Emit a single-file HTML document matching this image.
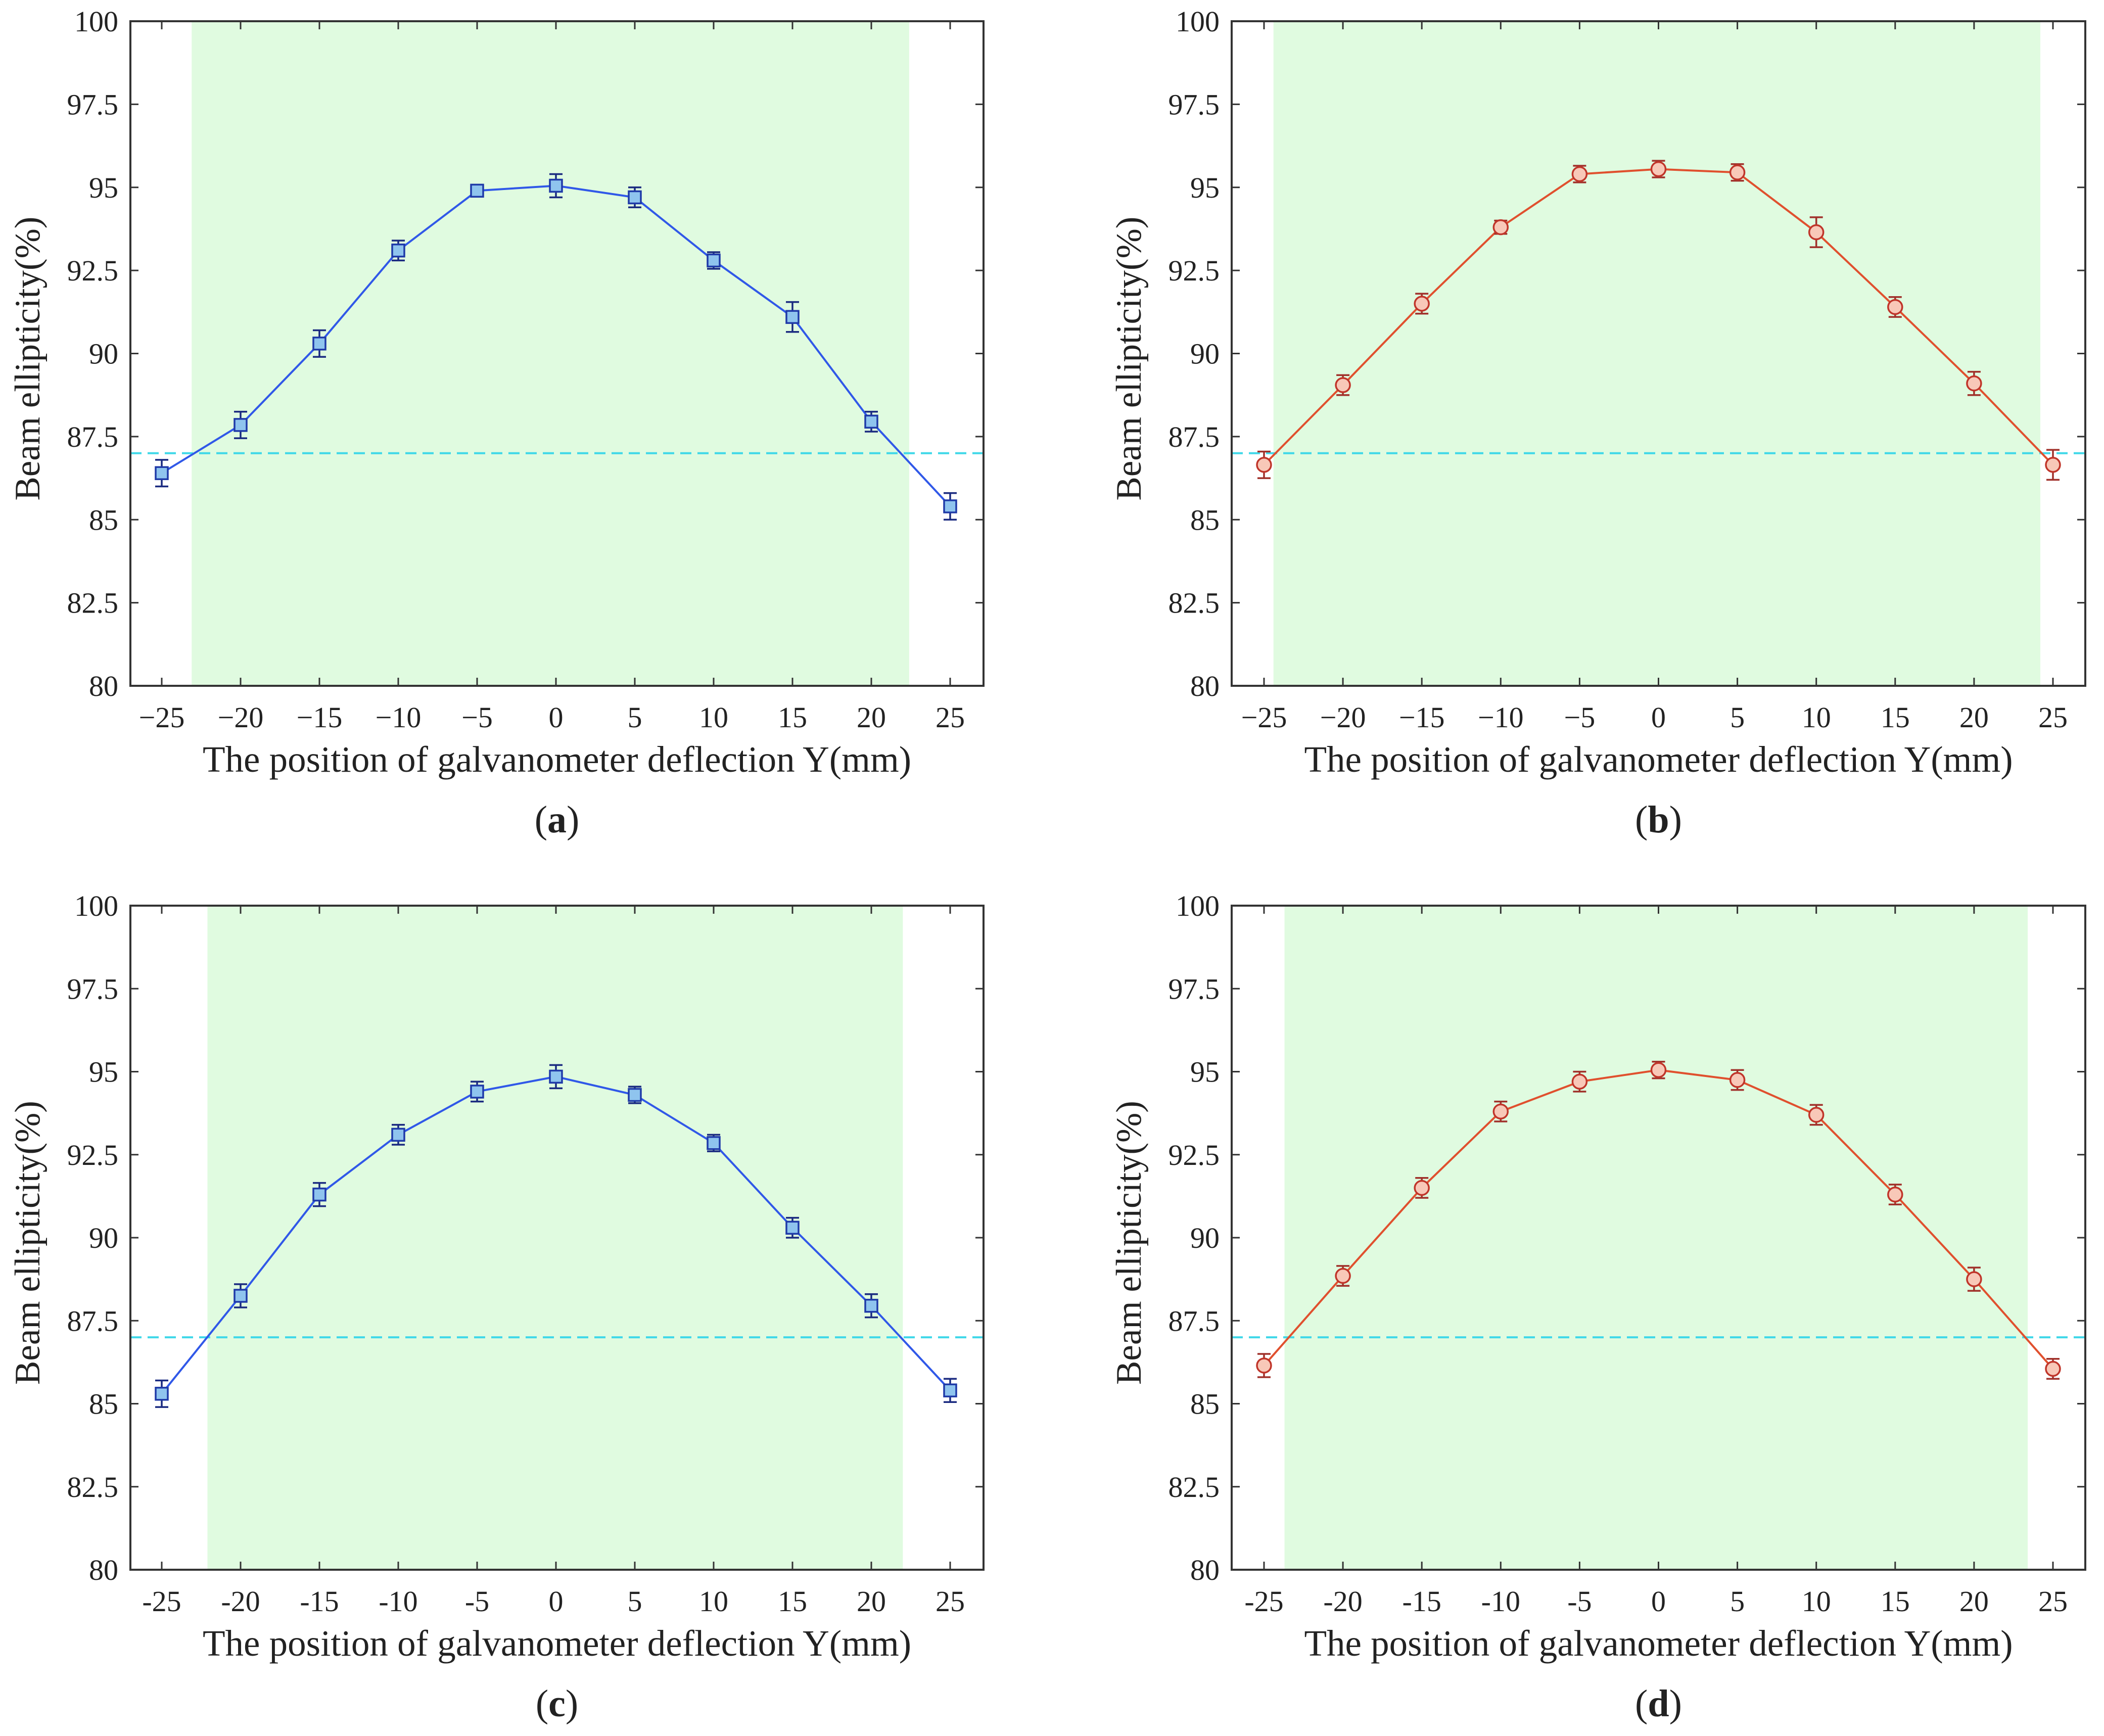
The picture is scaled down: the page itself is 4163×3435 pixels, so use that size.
<!DOCTYPE html>
<html><head><meta charset="utf-8"><style>
html,body{margin:0;padding:0;background:#fff}
svg{display:block}
text{font-family:"Liberation Serif",serif;fill:#222}
</style></head><body>
<svg id="fig" width="4163" height="3435" viewBox="0 0 4163 3435" xmlns="http://www.w3.org/2000/svg"></svg>
<script>
const xCats=[-25,-20,-15,-10,-5,0,5,10,15,20,25];
const yTicks=[80,82.5,85,87.5,90,92.5,95,97.5,100];
const yTickLabels=["80","82.5","85","87.5","90","92.5","95","97.5","100"];
const valsA=[86.4,87.85,90.3,93.1,94.9,95.05,94.7,92.8,91.1,87.95,85.4];
const errA=[0.4,0.4,0.4,0.3,0.15,0.35,0.3,0.25,0.45,0.3,0.4];
const valsB=[86.65,89.05,91.5,93.8,95.4,95.55,95.45,93.65,91.4,89.1,86.65];
const errB=[0.4,0.3,0.3,0.2,0.25,0.25,0.25,0.45,0.3,0.35,0.45];
const valsC=[85.3,88.25,91.3,93.1,94.4,94.85,94.3,92.85,90.3,87.95,85.4];
const errC=[0.4,0.35,0.35,0.3,0.3,0.35,0.25,0.25,0.3,0.35,0.35];
const valsD=[86.15,88.85,91.5,93.8,94.7,95.05,94.75,93.7,91.3,88.75,86.05];
const errD=[0.35,0.3,0.3,0.3,0.3,0.25,0.3,0.3,0.3,0.35,0.3];
const greenA=[-23.1,22.4];
const greenB=[-24.4,24.2];
const greenC=[-22.1,22.0];
const greenD=[-23.7,23.4];
const threshold=87;

const NS="http://www.w3.org/2000/svg";
const svg=document.getElementById('fig');
function mk(tag,attrs,parent){const e=document.createElementNS(NS,tag);for(const k in attrs)e.setAttribute(k,attrs[k]);(parent||svg).appendChild(e);return e;}

const panels=[
 {L:258,R:1946,T:42,B:1357,x0:320,x1:1880,vals:valsA,err:errA,green:greenA,kind:'sq',minus:'\u2212',cap:'a'},
 {L:2437,R:4126,T:42,B:1357,x0:2501,x1:4062,vals:valsB,err:errB,green:greenB,kind:'ci',minus:'\u2212',cap:'b'},
 {L:258,R:1946,T:1792,B:3106,x0:320,x1:1880,vals:valsC,err:errC,green:greenC,kind:'sq',minus:'-',cap:'c'},
 {L:2437,R:4126,T:1792,B:3106,x0:2501,x1:4062,vals:valsD,err:errD,green:greenD,kind:'ci',minus:'-',cap:'d'}
];
panels.forEach(p=>{
  const g=mk('g',{});
  
  
  const xs=v=>p.x0+(v-(-25))/50*(p.x1-p.x0);
  const ys=v=>p.B-(v-80)/20*(p.B-p.T);
  const gr=mk('rect',{x:xs(p.green[0]),y:p.T,width:xs(p.green[1])-xs(p.green[0]),height:p.B-p.T,fill:'#e0fbe0'},g);
  
  
  const th=mk('line',{x1:p.L,x2:p.R,y1:ys(threshold),y2:ys(threshold),stroke:'#3fd8e8','stroke-width':4,'stroke-dasharray':'22,12'},g);
  
  
  xCats.forEach((c,i)=>{
    const x=xs(c);
    mk('line',{x1:x,x2:x,y1:p.B,y2:p.B-16,stroke:'#333','stroke-width':3},g);
    mk('line',{x1:x,x2:x,y1:p.T,y2:p.T+16,stroke:'#333','stroke-width':3},g);
    const t=mk('text',{x:x,y:p.B+82,'text-anchor':'middle','font-size':58},g);
    t.textContent=c<0?p.minus+Math.abs(c):String(c);
    
    
  });
  yTicks.forEach((v,i)=>{
    const y=ys(v);
    mk('line',{x1:p.L,x2:p.L+16,y1:y,y2:y,stroke:'#333','stroke-width':3},g);
    mk('line',{x1:p.R,x2:p.R-16,y1:y,y2:y,stroke:'#333','stroke-width':3},g);
    const t=mk('text',{x:p.L-24,y:y+20,'text-anchor':'end','font-size':58},g);
    t.textContent=yTickLabels[i];
    
    
  });
  const box=mk('rect',{x:p.L,y:p.T,width:p.R-p.L,height:p.B-p.T,fill:'none',stroke:'#333','stroke-width':4},g);
  
  
  const lineCol=p.kind==='sq'?'#3058e8':'#e0502e';
  const errCol=p.kind==='sq'?'#1a2a80':'#a0302a';
  const pts=xCats.map((c,i)=>xs(c)+','+ys(p.vals[i])).join(' ');
  const pl=mk('polyline',{points:pts,fill:'none',stroke:lineCol,'stroke-width':4},g);
  
  
  xCats.forEach((c,i)=>{
    const x=xs(c),y=ys(p.vals[i]),y1=ys(p.vals[i]+p.err[i]),y2=ys(p.vals[i]-p.err[i]);
    const eb=mk('path',{d:`M${x},${y1}V${y2}M${x-13},${y1}H${x+13}M${x-13},${y2}H${x+13}`,stroke:errCol,'stroke-width':3.5,fill:'none'},g);
    
    
    let m;
    if(p.kind==='sq') m=mk('rect',{x:x-12,y:y-12,width:24,height:24,fill:'#8fc4ee',stroke:'#1f3aa8','stroke-width':3.5},g);
    else m=mk('circle',{cx:x,cy:y,r:14,fill:'#f8c8b8',stroke:'#c0352a','stroke-width':3.5},g);
    
    
  });
  const cx=(p.L+p.R)/2;
  const xl=mk('text',{x:cx,y:p.B+170,'text-anchor':'middle','font-size':73},g);
  xl.textContent='The position of galvanometer deflection Y(mm)';
  
  
  const ylx=p.L-180, yly=(p.T+p.B)/2+10;
  const yl=mk('text',{x:ylx,y:yly,'text-anchor':'middle','font-size':71,transform:`rotate(-90 ${ylx} ${yly})`},g);
  yl.textContent='Beam ellipticity(%)';
  
  
  const cp=mk('text',{x:cx,y:p.B+290,'text-anchor':'middle','font-size':76},g);
  cp.innerHTML='(<tspan font-weight="bold">'+p.cap+'</tspan>)';
  
  
});
</script>
</body></html>
